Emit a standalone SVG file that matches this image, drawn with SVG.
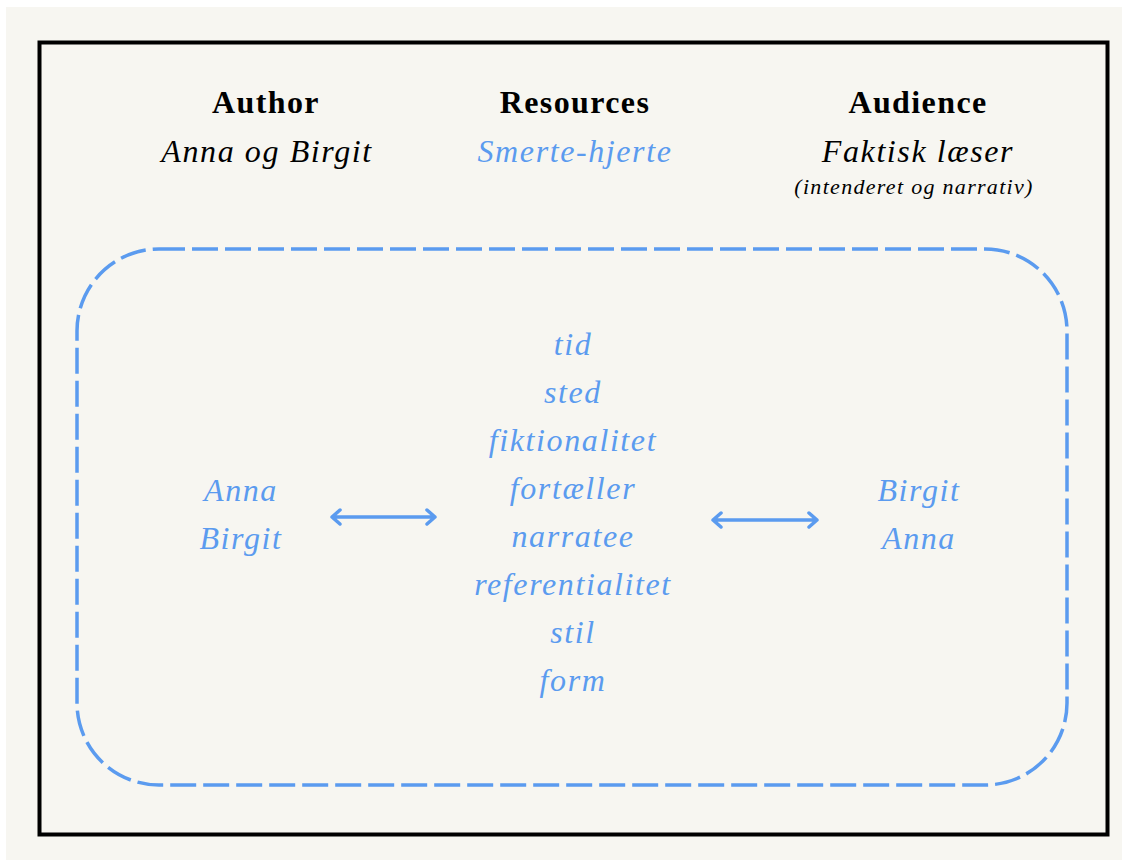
<svg xmlns="http://www.w3.org/2000/svg" width="1125" height="863" viewBox="0 0 1125 863">
<defs>
<style>
.h{font-family:"Liberation Serif",serif;font-weight:bold;font-size:32px;letter-spacing:1.4px;fill:#000;text-anchor:middle}
.s{font-family:"Liberation Serif",serif;font-style:italic;font-size:32px;letter-spacing:1.6px;fill:#000;text-anchor:middle}
.b{font-family:"Liberation Serif",serif;font-style:italic;font-size:32px;letter-spacing:1.6px;fill:#5b9bef;text-anchor:middle}
.sm{font-family:"Liberation Serif",serif;font-style:italic;font-size:22px;letter-spacing:1.3px;fill:#000;text-anchor:middle}
.arr{stroke:#5b9bef;stroke-width:3.5;fill:none;stroke-linecap:round;stroke-linejoin:round}
</style>
</defs>
<rect x="0" y="0" width="1125" height="863" fill="#ffffff"/>
<rect x="6" y="7" width="1116" height="853" fill="#f7f6f1"/>
<rect id="frame" x="39.5" y="42.5" width="1068" height="792" fill="none" stroke="#000" stroke-width="4"/>
<g id="author"><text class="h" x="266" y="113">Author</text><text class="s" x="267" y="162">Anna og Birgit</text></g>
<g id="resources"><text class="h" x="575" y="113">Resources</text><text class="b" x="575" y="162">Smerte-hjerte</text></g>
<g id="audience"><text class="h" x="918" y="113">Audience</text><text class="s" x="918" y="162">Faktisk læser</text><text class="sm" x="914" y="194">(intenderet og narrativ)</text></g>
<rect id="story" x="77" y="249" width="990" height="536" rx="82" ry="82" fill="none" stroke="#5b9bef" stroke-width="3.5" stroke-dasharray="26,7"/>
<g id="left"><text class="b" x="241" y="501">Anna</text><text class="b" x="241" y="549">Birgit</text></g>
<g id="center">
<text class="b" x="573" y="355">tid</text>
<text class="b" x="573" y="403">sted</text>
<text class="b" x="573" y="451">fiktionalitet</text>
<text class="b" x="573" y="499">fortæller</text>
<text class="b" x="573" y="547">narratee</text>
<text class="b" x="573" y="595">referentialitet</text>
<text class="b" x="573" y="643">stil</text>
<text class="b" x="573" y="691">form</text>
</g>
<g id="right"><text class="b" x="919" y="501">Birgit</text><text class="b" x="919" y="549">Anna</text></g>
<g id="connectors">
<path class="arr" d="M332 517 H435 M340 510 L332 517 L340 524 M427 510 L435 517 L427 524"/>
<path class="arr" d="M713 520 H817 M721 513 L713 520 L721 527 M809 513 L817 520 L809 527"/>
</g>
</svg>
